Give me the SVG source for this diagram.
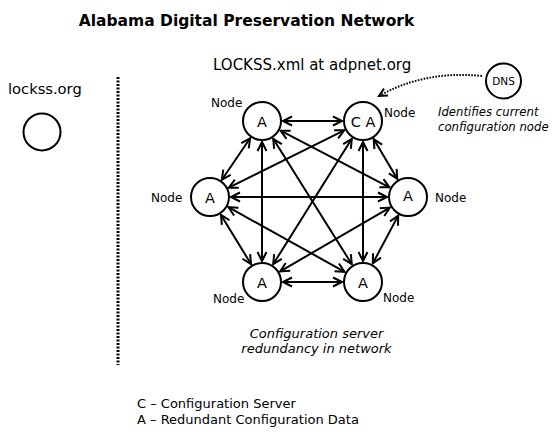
<svg xmlns="http://www.w3.org/2000/svg" width="559" height="436" viewBox="0 0 559 436">
<style>
text{font-family:"DejaVu Sans","Liberation Sans",sans-serif;fill:#000}
.title{font-size:15.5px;font-weight:bold}
.big{font-size:15px}
.lbl{font-size:12px}
.ital{font-style:italic}
.nd circle{fill:#fff;stroke:#000;stroke-width:2}
.nd text.a{font-size:14.5px;text-anchor:middle}
.edge{stroke:#000;stroke-width:2;fill:none;marker-start:url(#ah);marker-end:url(#ah)}
</style>
<defs>
<marker id="ah" markerUnits="userSpaceOnUse" markerWidth="14" markerHeight="14" viewBox="-11 -7 14 14" refX="0" refY="0" orient="auto-start-reverse">
<path d="M-9,-4.5 L0,0 L-9,4.5" fill="none" stroke="#000" stroke-width="2"/>
</marker>
<marker id="ahd" markerUnits="userSpaceOnUse" markerWidth="14" markerHeight="14" viewBox="-11 -7 14 14" refX="0" refY="0" orient="auto">
<path d="M-8,-4 L0,0 L-8,4" fill="none" stroke="#000" stroke-width="2"/>
</marker>
</defs>
<rect width="559" height="436" fill="#fff"/>
<text class="title" x="246.5" y="26" text-anchor="middle">Alabama Digital Preservation Network</text>
<text class="big" x="213" y="70">LOCKSS.xml at adpnet.org</text>
<text class="big" x="8" y="94" style="font-size:14.7px">lockss.org</text>
<line x1="118" y1="77" x2="118" y2="365" stroke="#000" stroke-width="3" stroke-dasharray="2 1.5"/>
<g id="lockss"><circle cx="42" cy="132" r="18.5" fill="#fff" stroke="#000" stroke-width="2"/></g>

<g id="connectors">
<line class="edge" x1="283" y1="121" x2="342" y2="121"/>
<line class="edge" x1="250.1" y1="138.3" x2="221.9" y2="179.7"/>
<line class="edge" x1="280.6" y1="130.7" x2="389.4" y2="187.3"/>
<line class="edge" x1="262" y1="142" x2="262" y2="261"/>
<line class="edge" x1="273.2" y1="138.8" x2="351.8" y2="264.2"/>
<line class="edge" x1="344.2" y1="130.3" x2="228.8" y2="187.7"/>
<line class="edge" x1="373.7" y1="139.1" x2="397.3" y2="178.9"/>
<line class="edge" x1="351.8" y1="138.8" x2="273.2" y2="264.2"/>
<line class="edge" x1="363" y1="142" x2="363" y2="261"/>
<line class="edge" x1="231" y1="197" x2="387" y2="197"/>
<line class="edge" x1="221" y1="214.9" x2="251" y2="264.1"/>
<line class="edge" x1="228.4" y1="207.2" x2="344.6" y2="271.8"/>
<line class="edge" x1="389.8" y1="207.6" x2="280.2" y2="271.4"/>
<line class="edge" x1="398.2" y1="215.6" x2="372.8" y2="263.4"/>
<line class="edge" x1="283" y1="282" x2="342" y2="282"/>
<path d="M482,76 Q425,70 379,96" fill="none" stroke="#000" stroke-width="2" stroke-dasharray="1.6 1.4" marker-end="url(#ahd)"/>
</g>

<g id="node-tl" class="nd"><circle cx="262" cy="121" r="19"/><text class="a" x="262" y="126.5">A</text><text class="lbl" x="211" y="107">Node</text></g>
<g id="node-tr" class="nd"><circle cx="363" cy="121" r="19"/><text class="a" x="363" y="126.5">C A</text><text class="lbl" x="384" y="117">Node</text></g>
<g id="node-l" class="nd"><circle cx="210" cy="197" r="19"/><text class="a" x="210" y="202.5">A</text><text class="lbl" x="151" y="202">Node</text></g>
<g id="node-r" class="nd"><circle cx="408" cy="197" r="19"/><text class="a" x="408" y="201">A</text><text class="lbl" x="435" y="202">Node</text></g>
<g id="node-bl" class="nd"><circle cx="262" cy="282" r="19"/><text class="a" x="262" y="287.5">A</text><text class="lbl" x="213" y="303">Node</text></g>
<g id="node-br" class="nd"><circle cx="363" cy="282" r="19"/><text class="a" x="363" y="287.5">A</text><text class="lbl" x="383" y="302">Node</text></g>

<g id="dns" class="nd"><circle cx="503.5" cy="81" r="17.5"/><text x="503.5" y="85" text-anchor="middle" style="font-size:10.5px">DNS</text></g>

<text class="ital" x="438" y="116" style="font-size:11.7px">Identifies current</text>
<text class="ital" x="438" y="130.5" style="font-size:11.7px">configuration node</text>
<text class="ital" x="316.5" y="338" text-anchor="middle" style="font-size:13px">Configuration server</text>
<text class="ital" x="316.5" y="353" text-anchor="middle" style="font-size:13px">redundancy in network</text>
<text x="137" y="408" style="font-size:13px">C – Configuration Server</text>
<text x="137" y="424" style="font-size:13px">A – Redundant Configuration Data</text>
</svg>
